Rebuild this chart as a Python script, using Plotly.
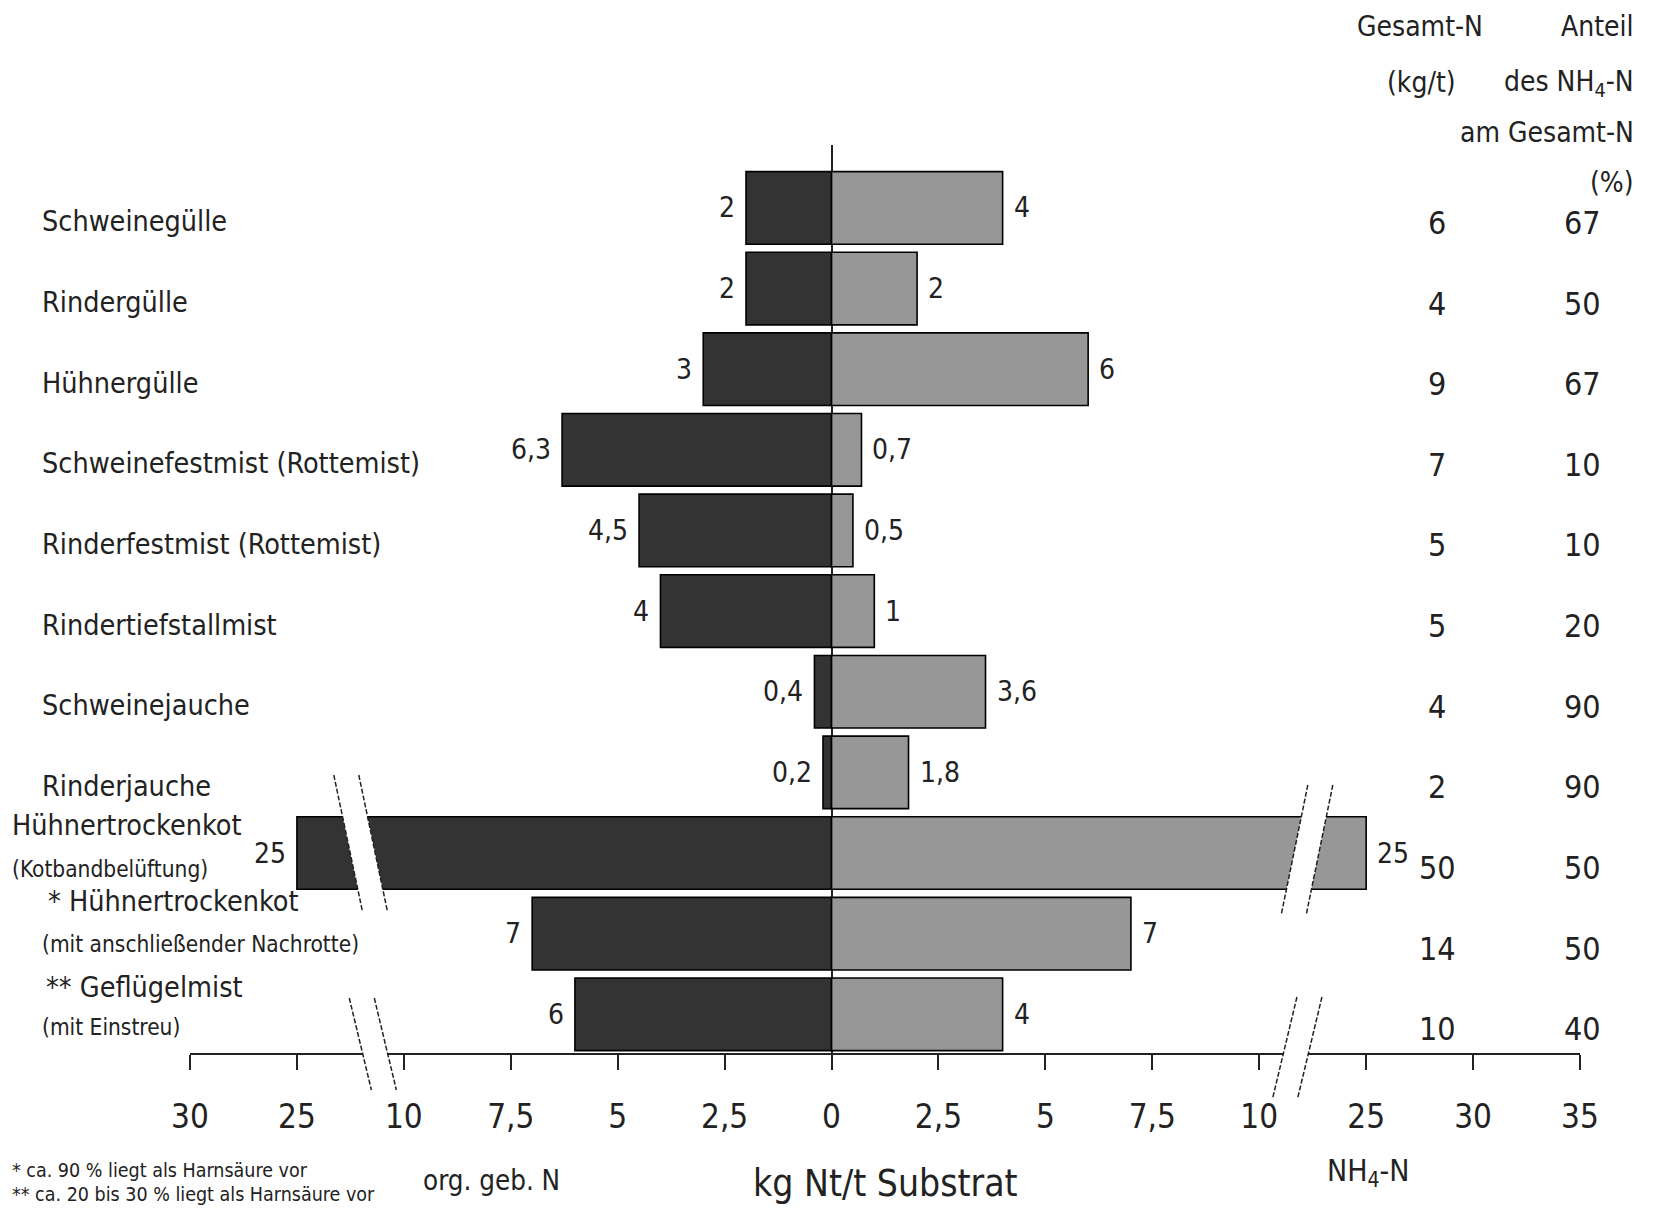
import plotly.graph_objects as go

# ---------------- data ----------------
categories = [
    "Schweinegülle", "Rindergülle", "Hühnergülle", "Schweinefestmist (Rottemist)",
    "Rinderfestmist (Rottemist)", "Rindertiefstallmist", "Schweinejauche", "Rinderjauche",
    "Hühnertrockenkot", "* Hühnertrockenkot", "** Geflügelmist",
]
subtitles = ["", "", "", "", "", "", "", "",
             "(Kotbandbelüftung)", "(mit anschließender Nachrotte)", "(mit Einstreu)"]
org_n = [2, 2, 3, 6.3, 4.5, 4, 0.4, 0.2, 25, 7, 6]          # org. geb. N (kg/t)
nh4_n = [4, 2, 6, 0.7, 0.5, 1, 3.6, 1.8, 25, 7, 4]           # NH4-N (kg/t)
gesamt_n = [6, 4, 9, 7, 5, 5, 4, 2, 50, 14, 10]              # Gesamt-N (kg/t)
anteil_nh4 = [67, 50, 67, 10, 10, 20, 90, 90, 50, 50, 40]    # Anteil NH4-N am Gesamt-N (%)
tick_values = [-30, -25, -10, -7.5, -5, -2.5, 0, 2.5, 5, 7.5, 10, 25, 30, 35]
footnotes = ["* ca. 90 % liegt als Harnsäure vor",
             "** ca. 20 bis 30 % liegt als Harnsäure vor"]

# ---------------- styling ----------------
FONT = "DejaVu Sans Condensed, Liberation Sans Narrow, DejaVu Sans, sans-serif"
TXT = "#222222"
DARK = "#333333"
LIGHT = "#979797"
BODY = 8                        # default page margin of the html body
W, H = 1655 - BODY, 1210 - BODY
# plot area in screen pixels: x 190..1580, y 145..1053
ML, MT = 190 - BODY, 145 - BODY
PW, PH = 1390, 908
MR, MB = W - ML - PW, H - MT - PH
X_RANGE = [-6, 7]
Y_RANGE = [10.48, -0.78]


def brk(v):
    """Broken-axis transform: |v|<=10 linear, 10..25 compressed, >=25 linear (5 per step)."""
    a = abs(v)
    s = -1 if v < 0 else 1
    if a <= 10:
        t = a / 2.5
    elif a <= 25:
        t = 4 + (a - 10) / 15
    else:
        t = 5 + (a - 25) / 5
    return s * t


def fmt(v):
    return f"{v:g}".replace(".", ",")


def xp(px):  # screen pixel -> paper x
    return (px - BODY - ML) / PW


def yp(py):  # screen pixel -> paper y
    return (MT + PH - (py - BODY)) / PH


idx = list(range(len(categories)))

fig = go.Figure()
fig.add_trace(go.Bar(
    y=idx, x=[brk(-v) for v in org_n], base=0, orientation="h", width=0.9,
    marker=dict(color=DARK, line=dict(color="black", width=1.6)),
    name="org. geb. N", hoverinfo="skip"))
fig.add_trace(go.Bar(
    y=idx, x=[brk(v) for v in nh4_n], base=0, orientation="h", width=0.9,
    marker=dict(color=LIGHT, line=dict(color="black", width=1.6)),
    name="NH4-N", hoverinfo="skip"))

ann = []


def add_text(x, y, text, size, xanchor="center", xref="paper", yref="paper", **kw):
    ann.append(dict(x=x, y=y, xref=xref, yref=yref, text=text, xanchor=xanchor,
                    yanchor="middle", showarrow=False, font=dict(size=size, color=TXT), **kw))


# value labels and right-hand columns
for i in idx:
    add_text(brk(-org_n[i]), i, fmt(org_n[i]), 28, "right", "x", "y", xshift=-9)
    add_text(brk(nh4_n[i]), i, fmt(nh4_n[i]), 28, "left", "x", "y", xshift=9)
    add_text(xp(1437), i, str(gesamt_n[i]), 32, "center", "paper", "y", yshift=-15)
    add_text(xp(1603), i, str(anteil_nh4[i]), 32, "right", "paper", "y", yshift=-15)

# category labels
label_layout = {  # index: (x_px, yshift_main, yshift_sub, x_sub_px)
    8: (10, 28, -16, 10),
    9: (46, 32, -10, 40),
    10: (44, 27, -13, 40),
}
for i in idx:
    if i in label_layout:
        x0, ys_main, ys_sub, xs = label_layout[i]
        add_text(xp(x0), i, categories[i], 28.5, "left", "paper", "y", yshift=ys_main)
        add_text(xp(xs), i, subtitles[i], 22.5, "left", "paper", "y", yshift=ys_sub)
    else:
        add_text(xp(40), i, categories[i], 28.5, "left", "paper", "y", yshift=-14)

# column headers
add_text(xp(1420), yp(27), "Gesamt-N", 28)
add_text(xp(1421), yp(82), "(kg/t)", 28)
for txt, ypx in [("Anteil", 27), ("des NH<sub>4</sub>-N", 83), ("am Gesamt-N", 133), ("(%)", 182)]:
    add_text(xp(1636), yp(ypx), txt, 28, "right")

# axis captions
add_text(xp(491), yp(1180), "org. geb. N", 27.5)
add_text(xp(885), yp(1183), "kg Nt/t Substrat", 37)
add_text(xp(1368), yp(1172), "NH<sub>4</sub>-N", 30)
# footnotes
add_text(xp(10), yp(1170), footnotes[0], 19.5, "left")
add_text(xp(10), yp(1194), footnotes[1], 19.5, "left")

# axis-break marks (screen-pixel geometry converted to paper)
shapes = []


def break_mark(xc, yc, y_top, y_bot, k, gap=25):
    def xat(y, off):
        return xc + off + k * (y - yc)
    x1t, x1b = xat(y_top, -gap / 2), xat(y_bot, -gap / 2)
    x2t, x2b = xat(y_top, gap / 2), xat(y_bot, gap / 2)
    path = (f"M {xp(x1t)},{yp(y_top)} L {xp(x2t)},{yp(y_top)} "
            f"L {xp(x2b)},{yp(y_bot)} L {xp(x1b)},{yp(y_bot)} Z")
    shapes.append(dict(type="path", path=path, xref="paper", yref="paper",
                       fillcolor="white", line=dict(width=0), layer="above"))
    for a, b in [(x1t, x1b), (x2t, x2b)]:
        shapes.append(dict(type="line", x0=xp(a), y0=yp(y_top), x1=xp(b), y1=yp(y_bot),
                           xref="paper", yref="paper", layer="above",
                           line=dict(color=TXT, width=1.5, dash="5px,2px")))


break_mark(361, 845, 775, 912, 0.21)
break_mark(375, 1053, 998, 1090, 0.24)
break_mark(1307, 850, 785, 914, -0.205)
break_mark(1296, 1053, 997, 1098, -0.24)

fig.update_layout(
    width=W, height=H,
    margin=dict(l=ML, r=MR, t=MT, b=MB),
    paper_bgcolor="white", plot_bgcolor="white",
    font=dict(family=FONT, color=TXT),
    barmode="overlay", showlegend=False,
    annotations=ann, shapes=shapes,
    xaxis=dict(
        range=X_RANGE, tickmode="array",
        tickvals=[brk(v) for v in tick_values],
        ticktext=[fmt(abs(v)) for v in tick_values],
        ticks="outside", ticklen=15, tickwidth=1.6, tickcolor=TXT,
        showline=True, linecolor=TXT, linewidth=2,
        zeroline=True, zerolinecolor=TXT, zerolinewidth=1.6,
        showgrid=False, tickfont=dict(size=33, color=TXT),
        ticklabelstandoff=18, fixedrange=True,
    ),
    yaxis=dict(range=Y_RANGE, visible=False, showgrid=False, zeroline=False, fixedrange=True),
)

fig.write_html("out.html")
